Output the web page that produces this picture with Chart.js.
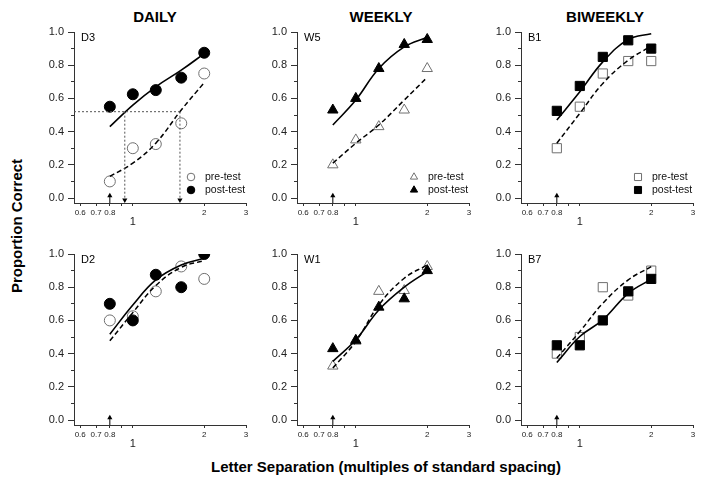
<!DOCTYPE html>
<html><head><meta charset="utf-8">
<script src="https://cdn.jsdelivr.net/npm/chart.js@4/dist/chart.umd.min.js"></script>
<style>
body{margin:0;background:#fff;width:708px;height:487px;position:relative;overflow:hidden;font-family:"Liberation Sans",Arial,sans-serif}
canvas.c{position:absolute}
.t{position:absolute;font-weight:bold;font-size:15px;color:#000;white-space:nowrap;transform:translate(-50%,-50%)}
</style></head><body>
<div class="t" style="left:155px;top:16px">DAILY</div>
<div class="t" style="left:381px;top:16px">WEEKLY</div>
<div class="t" style="left:605px;top:16px">BIWEEKLY</div>
<div class="t" style="left:16px;top:226px;transform:translate(-50%,-50%) rotate(-90deg)">Proportion Correct</div>
<div class="t" style="left:386px;top:466px">Letter Separation (multiples of standard spacing)</div>
<script>
// ---- data ----
const separations = [0.8, 1, 1.25, 1.6, 2];
const xTickValues = [0.6, 0.7, 0.8, 0.9, 1, 2, 3];
const yMajorTicks = [0, 0.2, 0.4, 0.6, 0.8, 1.0];
const yMinorTicks = [0.1, 0.3, 0.5, 0.7, 0.9];
const seriesNames = ['pre-test', 'post-test'];
const trainedSeparation = 0.8;

const d3Pre = [0.10, 0.30, 0.325, 0.45, 0.75];
const d3Post = [0.55, 0.625, 0.65, 0.725, 0.875];
const d3PreFit = [0.13, 0.21, 0.33, 0.53, 0.695];
const d3PostFit = [0.43, 0.56, 0.67, 0.77, 0.87];
const d3Criterion = 0.52;
const d3PostThreshold = 0.925;
const d3PreThreshold = 1.58;

const w5Pre = [0.20, 0.35, 0.43, 0.53, 0.78];
const w5Post = [0.53, 0.60, 0.78, 0.925, 0.955];
const w5PreFit = [0.21, 0.33, 0.44, 0.59, 0.727];
const w5PostFit = [0.44, 0.59, 0.78, 0.91, 0.968];

const b1Pre = [0.30, 0.55, 0.75, 0.825, 0.825];
const b1Post = [0.525, 0.675, 0.85, 0.95, 0.90];
const b1PreFit = [0.33, 0.51, 0.69, 0.83, 0.915];
const b1PostFit = [0.47, 0.64, 0.82, 0.955, 0.99];

const d2Pre = [0.60, 0.625, 0.775, 0.925, 0.85];
const d2Post = [0.70, 0.60, 0.875, 0.80, 1.0];
const d2PreFit = [0.477, 0.647, 0.81, 0.92, 0.96];
const d2PostFit = [0.517, 0.693, 0.844, 0.934, 0.974];

const w1Pre = [0.325, 0.475, 0.775, 0.78, 0.925];
const w1Post = [0.43, 0.48, 0.68, 0.73, 0.90];
const w1PreFit = [0.313, 0.473, 0.693, 0.854, 0.934];
const w1PostFit = [0.353, 0.483, 0.663, 0.80, 0.894];

const b7Pre = [0.40, 0.50, 0.80, 0.75, 0.90];
const b7Post = [0.45, 0.45, 0.60, 0.775, 0.85];
const b7PreFit = [0.373, 0.533, 0.703, 0.844, 0.924];
const b7PostFit = [0.347, 0.503, 0.603, 0.763, 0.848];

// ---- layout ----
const X_MIN = 0.565, X_MAX = 3, Y_MIN = -0.03, Y_MAX = 1.0;
const colLeft = [74, 297, 521];
const rowTop = [32, 254];
const PLOT_W = 172, PLOT_H = 171;
const PAD_L = 62, PAD_T = 14, PAD_R = 14, PAD_B = 40;

const toPts = arr => arr.map((v, i) => ({x: separations[i], y: v}));

const decor = {
  id: 'decor',
  afterDatasetsDraw(chart, args, opts) {
    const ctx = chart.ctx, a = chart.chartArea;
    ctx.save();
    ctx.fillStyle = '#000';
    ctx.font = '11px "Liberation Sans", Arial, sans-serif';
    ctx.textBaseline = 'middle';
    ctx.textAlign = 'left';
    ctx.fillText(opts.label, a.left + 7, a.top + 6);
    if (opts.legend) {
      const mx = a.right - 55;
      const rows = [a.bottom - 26, a.bottom - 13];
      ctx.font = '10.5px "Liberation Sans", Arial, sans-serif';
      rows.forEach((y, i) => {
        ctx.save();
        ctx.fillStyle = i === 0 ? '#fff' : '#000';
        ctx.strokeStyle = i === 0 ? '#707070' : '#000';
        ctx.lineWidth = 1;
        Chart.helpers.drawPoint(ctx, {pointStyle: opts.legend.style, radius: opts.legend.r, borderWidth: 1, rotation: 0}, mx, y);
        ctx.restore();
        ctx.fillStyle = '#111';
        ctx.fillText(seriesNames[i], mx + 14, y);
      });
    }
    ctx.restore();
  }
};

function makePanel(row, col, label, style, r, pre, post, preFit, postFit, extra) {
  const cv = document.createElement('canvas');
  cv.className = 'c';
  const W = PAD_L + PLOT_W + PAD_R, H = PAD_T + PLOT_H + PAD_B;
  cv.width = W; cv.height = H;
  cv.style.width = W + 'px'; cv.style.height = H + 'px';
  cv.style.left = (colLeft[col] - PAD_L) + 'px';
  cv.style.top = (rowTop[row] - PAD_T) + 'px';
  document.body.appendChild(cv);

  const datasets = [
    {data: toPts(preFit), borderColor: '#000', borderWidth: 1.5, borderDash: [5, 3], pointRadius: 0, showLine: true, tension: 0.4, order: 1},
    {data: toPts(postFit), borderColor: '#000', borderWidth: 1.6, pointRadius: 0, showLine: true, tension: 0.4, order: 1},
    {data: toPts(post), pointStyle: style, pointRadius: r, backgroundColor: '#000', borderColor: '#000', borderWidth: 1, showLine: false, order: 2},
    {data: toPts(pre), pointStyle: style, pointRadius: r, backgroundColor: '#fff', borderColor: '#707070', borderWidth: 1, showLine: false, order: 3},
    // trained-separation arrow
    {data: [{x: trainedSeparation, y: Y_MIN}, {x: trainedSeparation, y: 0.012}], borderColor: '#000', borderWidth: 1, pointRadius: 0, showLine: true, order: 0},
    {data: [{x: trainedSeparation, y: 0.014}], pointStyle: 'triangle', pointRadius: 3, backgroundColor: '#000', borderColor: '#000', borderWidth: 0, showLine: false, order: 0}
  ].concat(extra || []);

  new Chart(cv, {
    type: 'scatter',
    data: {datasets},
    plugins: [decor],
    options: {
      responsive: false, animation: false, devicePixelRatio: 1,
      layout: {padding: {left: 0, top: PAD_T, right: PAD_R, bottom: 0}},
      plugins: {legend: {display: false}, tooltip: {enabled: false},
        decor: {label, legend: row === 0 ? {style, r: style === 'rect' ? 5 : (style === 'triangle' ? 4.2 : 3.8)} : null}},
      scales: {
        x: {
          type: 'logarithmic', min: X_MIN, max: X_MAX, position: 'bottom',
          afterBuildTicks: s => { s.ticks = xTickValues.map(v => ({value: v})); },
          afterFit: s => { s.height = PAD_B; },
          grid: {drawOnChartArea: false, drawTicks: true, tickLength: 3, color: '#333'},
          border: {display: true, color: '#333', width: 1},
          ticks: {
            autoSkip: false, maxRotation: 0, padding: 2, color: '#222',
            font: c => (c.tick && c.tick.value === 1) ? {size: 11, lineHeight: '9px', family: '"Liberation Sans", Arial, sans-serif'} : {size: 8, family: '"Liberation Sans", Arial, sans-serif'},
            callback: v => v === 1 ? ['', '1'] : (v === 0.9 ? '' : String(v))
          }
        },
        y: {
          type: 'linear', min: Y_MIN, max: Y_MAX, position: 'left', weight: 1,
          afterBuildTicks: s => { s.ticks = yMajorTicks.map(v => ({value: v})); },
          afterFit: s => { s.width = PAD_L; },
          grid: {drawOnChartArea: false, drawTicks: true, tickLength: 6, color: '#333'},
          border: {display: true, color: '#333', width: 1},
          ticks: {padding: 4, color: '#222', font: {size: 11, family: '"Liberation Sans", Arial, sans-serif'}, callback: v => v.toFixed(1)}
        },
        yMinor: {
          type: 'linear', min: Y_MIN, max: Y_MAX, position: 'left', weight: 0,
          afterBuildTicks: s => { s.ticks = yMinorTicks.map(v => ({value: v})); },
          afterFit: s => { s.width = 0; },
          grid: {drawOnChartArea: false, drawTicks: true, tickLength: 3, color: '#333'},
          border: {display: false},
          ticks: {display: false}
        }
      }
    }
  });
}

const dotted = {borderColor: '#555', borderWidth: 1, borderDash: [2, 2], pointRadius: 0, showLine: true, tension: 0, order: 0};
const downHead = {pointStyle: 'triangle', rotation: 180, pointRadius: 3, backgroundColor: '#000', borderColor: '#000', borderWidth: 0, showLine: false, order: 0};
const d3Extra = [
  Object.assign({data: [{x: X_MIN, y: d3Criterion}, {x: d3PreThreshold, y: d3Criterion}]}, dotted),
  Object.assign({data: [{x: d3PostThreshold, y: d3Criterion}, {x: d3PostThreshold, y: -0.01}]}, dotted),
  Object.assign({data: [{x: d3PreThreshold, y: d3Criterion}, {x: d3PreThreshold, y: -0.01}]}, dotted),
  Object.assign({data: [{x: d3PostThreshold, y: -0.012}, {x: d3PreThreshold, y: -0.012}]}, downHead)
];

makePanel(0, 0, 'D3', 'circle', 5.5, d3Pre, d3Post, d3PreFit, d3PostFit, d3Extra);
makePanel(0, 1, 'W5', 'triangle', 6, w5Pre, w5Post, w5PreFit, w5PostFit);
makePanel(0, 2, 'B1', 'rect', 6.5, b1Pre, b1Post, b1PreFit, b1PostFit);
makePanel(1, 0, 'D2', 'circle', 5.5, d2Pre, d2Post, d2PreFit, d2PostFit);
makePanel(1, 1, 'W1', 'triangle', 6, w1Pre, w1Post, w1PreFit, w1PostFit);
makePanel(1, 2, 'B7', 'rect', 6.5, b7Pre, b7Post, b7PreFit, b7PostFit);
</script>
</body></html>
